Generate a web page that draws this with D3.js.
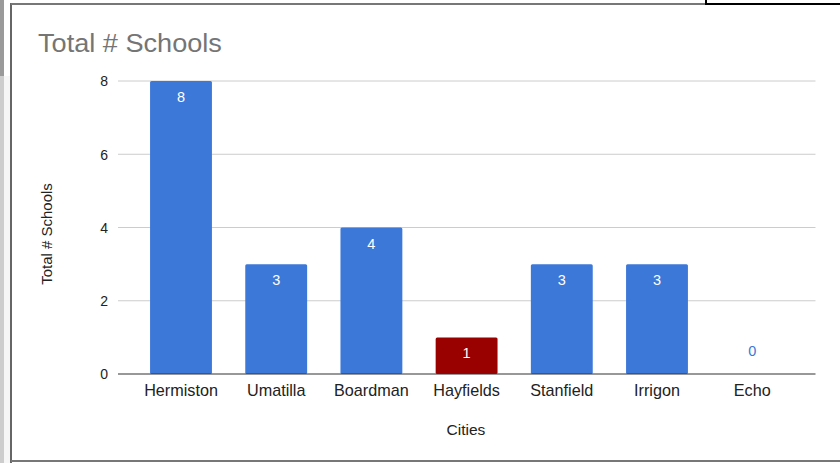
<!DOCTYPE html>
<html><head><meta charset="utf-8">
<script src="https://cdn.jsdelivr.net/npm/d3@7"></script>
<style>
html,body{margin:0;padding:0;background:#fff;}
svg{display:block;font-family:"Liberation Sans",Arial,sans-serif;}
</style></head>
<body>
<svg id="chart" width="840" height="463"></svg>
<script>
const cities = ["Hermiston","Umatilla","Boardman","Hayfields","Stanfield","Irrigon","Echo"];
const schools = [8,3,4,1,3,3,0];
const highlight = ["Hayfields"];
const yTicks = [0,2,4,6,8];

const svg = d3.select("#chart");
const W = 840, H = 463;

// page decorations (screenshot frame)
svg.append("rect").attr("x",0).attr("y",0).attr("width",4).attr("height",H).attr("fill","#9a9a9a");
svg.append("rect").attr("x",0).attr("y",76).attr("width",10).attr("height",H-76).attr("fill","#f0f0f0").attr("opacity",0.6);
svg.append("line").attr("x1",11).attr("x2",11).attr("y1",3).attr("y2",H).attr("stroke","#666").attr("stroke-width",2);
svg.append("line").attr("x1",11).attr("x2",706).attr("y1",4).attr("y2",4).attr("stroke","#777").attr("stroke-width",2);
svg.append("line").attr("x1",706).attr("x2",W).attr("y1",4).attr("y2",4).attr("stroke","#000").attr("stroke-width",2);
svg.append("line").attr("x1",706).attr("x2",706).attr("y1",0).attr("y2",5).attr("stroke","#000").attr("stroke-width",2);
svg.append("line").attr("x1",11).attr("x2",W).attr("y1",461).attr("y2",461).attr("stroke","#777").attr("stroke-width",2);

const x = d3.scaleBand().domain(cities).range([133.4, 799.8]).paddingInner(0.35).paddingOuter(0.175);
const y = d3.scaleLinear().domain([0,8]).range([374,81]);

// gridlines
svg.append("g").selectAll("line").data(yTicks.filter(d=>d>0)).join("line")
  .attr("x1",118).attr("x2",815.5)
  .attr("y1",d=>y(d)).attr("y2",d=>y(d))
  .attr("stroke","#cccccc").attr("stroke-width",1);

// y axis labels
const yAxis = d3.axisLeft(y).tickValues(yTicks).tickSize(0).tickPadding(0);
const ya = svg.append("g").attr("transform","translate(108,0)").call(yAxis);
ya.select(".domain").remove();
ya.selectAll("text").attr("font-size",14).attr("fill","#222").attr("font-family","Liberation Sans, Arial, sans-serif").attr("dy","0.35em");

// bars
svg.append("g").selectAll("rect").data(cities).join("rect")
  .attr("x",d=>x(d)).attr("width",x.bandwidth())
  .attr("y",(d,i)=>y(schools[i])).attr("height",(d,i)=>y(0)-y(schools[i]))
  .attr("fill",d=>highlight.includes(d)?"#990000":"#3c78d8")
  .attr("rx",1.5);

// baseline
svg.append("line").attr("x1",118).attr("x2",815.5).attr("y1",y(0)).attr("y2",y(0))
  .attr("stroke","#333").attr("stroke-width",1.2);

// value labels
svg.append("g").selectAll("text").data(cities).join("text")
  .attr("x",d=>x(d)+x.bandwidth()/2)
  .attr("y",(d,i)=>schools[i]>0 ? y(schools[i])+16 : y(0)-23)
  .attr("dy","0.35em")
  .attr("text-anchor","middle").attr("font-size",14.5)
  .attr("fill",(d,i)=>schools[i]>0?"#ffffff":"#3c78d8")
  .text((d,i)=>schools[i]);

// x axis labels
const xAxis = d3.axisBottom(x).tickSize(0).tickPadding(0);
const xa = svg.append("g").attr("transform","translate(0,390)").call(xAxis);
xa.select(".domain").remove();
xa.selectAll("text").attr("font-size",16.2).attr("fill","#222").attr("font-family","Liberation Sans, Arial, sans-serif").attr("dy","0.35em").attr("y",0);

// titles
svg.append("text").attr("transform","translate(38,52) scale(1.085,1)").attr("font-size",25).attr("fill","#757575").text("Total # Schools");
svg.append("text").attr("x",466).attr("y",430).attr("dy","0.35em").attr("text-anchor","middle").attr("font-size",15.5).attr("fill","#222").text("Cities");
svg.append("text").attr("transform","translate(47,234) rotate(-90)").attr("dy","0.35em").attr("text-anchor","middle").attr("font-size",15).attr("fill","#222").text("Total # Schools");
</script>
</body></html>
